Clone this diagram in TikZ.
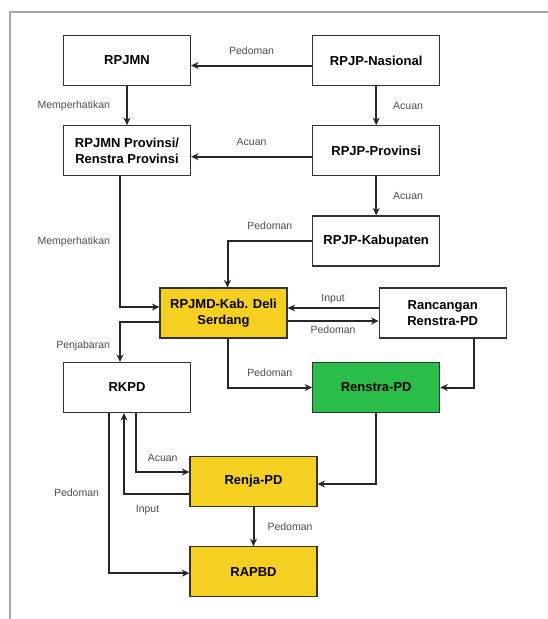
\documentclass[tikz,border=0pt]{standalone}
\usepackage{fontspec}
\setmainfont{Liberation Sans}
\usetikzlibrary{arrows.meta}
\usetikzlibrary{positioning}
\definecolor{kuning}{RGB}{245,208,32}
\definecolor{hijau}{RGB}{42,190,72}

\begin{document}
\begin{tikzpicture}[x=1pt,y=-1pt,node distance=39pt,>={Stealth[length=7.5pt,width=7pt]},
    box/.style={draw=black!80,line width=1.2pt,minimum width=127pt,minimum height=50pt,
      align=center,inner sep=2pt,font=\fontsize{13}{15.5}\selectfont\bfseries},
    lbl/.style={font=\fontsize{10.5}{12}\selectfont,text=black!70,inner sep=1pt},
    arr/.style={->,line width=2pt,draw=black!85}]
  \useasboundingbox (0,0) rectangle (548,619);
  % frame
  \draw[black!35,line width=1.5pt] (10,619) -- (10,12) -- (548,12);

  \node[box]                (rpjmn)     at (127,60.5) {RPJMN};
  \node[box]                (rpjpnas)   [right=121pt of rpjmn] {RPJP-Nasional};
  \node[box]                (rpjmnprov) [below=of rpjmn] {RPJMN Provinsi/\\Renstra Provinsi};
  \node[box]                (rpjpprov)  [below=of rpjpnas] {RPJP-Provinsi};
  \node[box]                (rpjpkab)   [below=of rpjpprov] {RPJP-Kabupaten};
  \node[box,fill=kuning]    (rpjmd)     at (223.5,313) {RPJMD-Kab. Deli\\Serdang};
  \node[box]                (rancangan) [right=91pt of rpjmd] {Rancangan\\Renstra-PD};
  \node[box]                (rkpd)      at (127,387.5) {RKPD};
  \node[box,fill=hijau]     (renstra)   [right=121pt of rkpd] {Renstra-PD};
  \node[box,fill=kuning]    (renja)     at (253.5,481.5) {Renja-PD};
  \node[box,fill=kuning]    (rapbd)     [below=of renja] {RAPBD};

  % straight arrows
  \draw[arr] ([yshift=-5pt]rpjpnas.west) -- node[lbl,above=9pt] {Pedoman} ([yshift=-5pt]rpjmn.east);
  \draw[arr] (rpjmn) -- node[lbl,left=15pt] {Memperhatikan} (rpjmnprov);
  \draw[arr] (rpjpnas) -- node[lbl,right=15pt] {Acuan} (rpjpprov);
  \draw[arr] ([yshift=-6pt]rpjpprov.west) -- node[lbl,above=9pt] {Acuan} ([yshift=-6pt]rpjmnprov.east);
  \draw[arr] (rpjpprov) -- node[lbl,right=15pt] {Acuan} (rpjpkab);
  \draw[arr] ([yshift=5pt]rancangan.west) -- node[lbl,above=2pt] {Input} ([yshift=5pt]rpjmd.east);
  \draw[arr] ([yshift=-8pt]rpjmd.east) -- node[lbl,below=3pt] {Pedoman} ([yshift=-8pt]rancangan.west);
  \draw[arr] (renja) -- node[lbl,right=12pt] {Pedoman} (rapbd);

  % elbow arrows
  \draw[arr] ([xshift=-7pt]rpjmnprov.south) |- node[lbl,pos=0.25,left=8pt] {Memperhatikan} ([yshift=6pt]rpjmd.west);
  \draw[arr] (rpjpkab.west) -| node[lbl,pos=0.25,above=9pt] {Pedoman} ([xshift=4pt]rpjmd.north);
  \draw[arr] ([yshift=-9pt]rpjmd.west) -| node[lbl,pos=0.8,left=8pt] {Penjabaran} ([xshift=-7pt]rkpd.north);
  \draw[arr] ([xshift=4pt]rpjmd.south) |- node[lbl,pos=0.75,above=9pt] {Pedoman} (renstra.west);
  \draw[arr] ([xshift=31pt]rancangan.south) |- (renstra.east);
  \draw[arr] (renstra.south) |- ([yshift=-2.5pt]renja.east);
  \draw[arr] ([xshift=9pt]rkpd.south) |- node[lbl,pos=0.75,above=8pt] {Acuan} ([yshift=9.5pt]renja.west);
  \draw[arr] ([yshift=-12.5pt]renja.west) -| node[lbl,pos=0.32,below=9pt] {Input} ([xshift=-3pt]rkpd.south);
  \draw[arr] ([xshift=-18pt]rkpd.south) |- node[lbl,pos=0.25,left=8pt] {Pedoman} ([yshift=-1.5pt]rapbd.west);
\end{tikzpicture}
\end{document}
